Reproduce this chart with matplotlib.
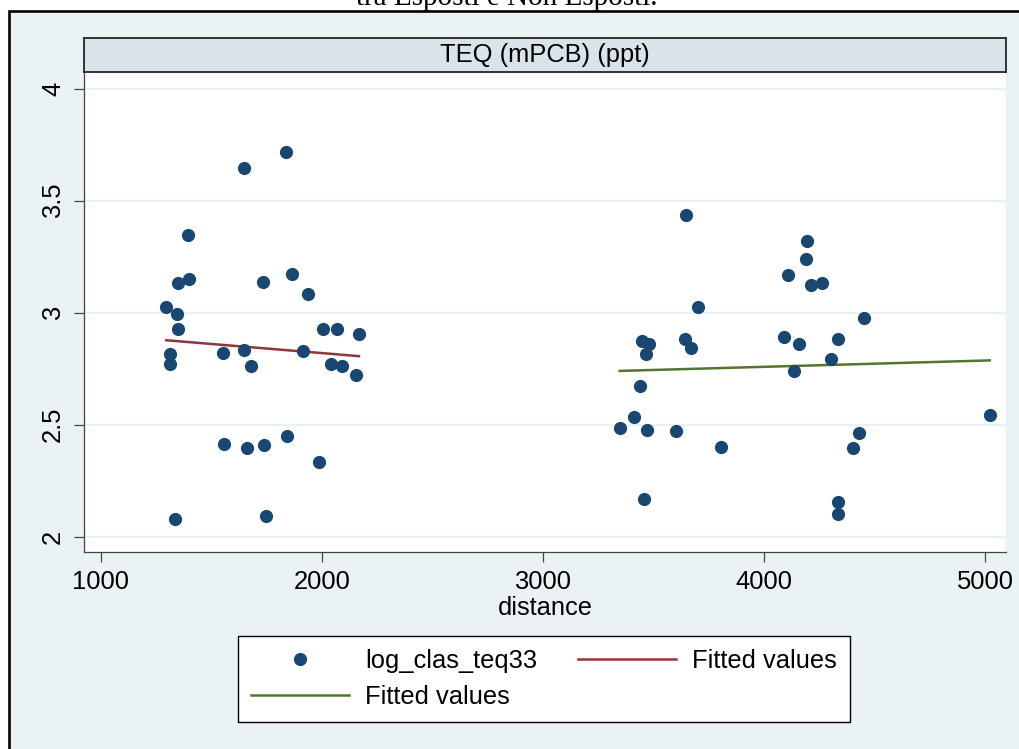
import matplotlib
matplotlib.use("Agg")
import matplotlib.pyplot as plt
from matplotlib.patches import Rectangle

plt.rcParams['font.family'] = ['Liberation Sans', 'DejaVu Sans']

# near group (distance < 2500)
near_dist = [1648, 1839, 1396, 1348, 1401, 1733, 1865, 1938, 1297, 1345,
             1351, 2005, 2069, 2168, 1315, 1312, 1553, 1648, 1681, 1915,
             2042, 2090, 2153, 1559, 1663, 1737, 1844, 1986, 1335, 1748]
near_teq = [3.646, 3.716, 3.346, 3.131, 3.152, 3.137, 3.171, 3.085, 3.027, 2.994,
            2.929, 2.927, 2.927, 2.905, 2.817, 2.772, 2.819, 2.833, 2.763, 2.830,
            2.772, 2.763, 2.722, 2.414, 2.397, 2.409, 2.450, 2.332, 2.080, 2.094]

# far group
far_dist = [3649, 4193, 4191, 4107, 4211, 4261, 3700, 4451, 3448, 3481,
            3468, 3643, 3671, 4092, 4157, 4336, 4303, 4134, 3439, 3413,
            3347, 3469, 3602, 3807, 4431, 4401, 5021, 3459, 4333, 4333]
far_teq = [3.436, 3.320, 3.241, 3.168, 3.124, 3.131, 3.027, 2.975, 2.875, 2.859,
           2.816, 2.884, 2.841, 2.892, 2.860, 2.883, 2.792, 2.738, 2.674, 2.536,
           2.487, 2.475, 2.473, 2.400, 2.462, 2.395, 2.545, 2.168, 2.154, 2.101]

# fitted lines (end points)
fit_near_x = [1297, 2168]
fit_near_y = [2.877, 2.806]
fit_far_x = [3347, 5021]
fit_far_y = [2.740, 2.787]

x_ticks = [1000, 2000, 3000, 4000, 5000]
y_ticks = [2, 2.5, 3, 3.5, 4]
y_ticklabels = ['2', '2.5', '3', '3.5', '4']

navy = '#1a476f'
maroon = '#90353b'
green = '#55752f'
bg = '#eaf2f3'
fs = 18.4

W, H = 1020, 749
fig = plt.figure(figsize=(W / 100, H / 100), dpi=100)
fig.patch.set_facecolor('white')

# graph region with black frame (behind the axes)
fig.patches.append(Rectangle((9 / W, -0.05), 1.2, 1 - 11 / H + 0.05,
                             transform=fig.transFigure, facecolor=bg,
                             edgecolor='black', linewidth=1.9, zorder=-5))

fig.text(0.497, 1 - 5 / H, 'tra Esposti e Non Esposti.', family='Liberation Serif',
         fontsize=21, ha='center', va='baseline')

ax = fig.add_axes([84 / W, 1 - 551.7 / H, 922 / W, (551.7 - 72) / H])
ax.set_facecolor('white')

ax.plot(near_dist, near_teq, 'o', color=navy, ms=9.5, mew=0, zorder=3)
l_red, = ax.plot(fit_near_x, fit_near_y, color=maroon, lw=1.8, zorder=2)
l_green, = ax.plot(fit_far_x, fit_far_y, color=green, lw=1.8, zorder=2)
pts, = ax.plot(far_dist, far_teq, 'o', color=navy, ms=9.5, mew=0, zorder=3)

ax.set_xlim(924.5, 5094.5)
ax.set_ylim(1.933, 4.0745)
ax.set_xticks(x_ticks)
ax.set_yticks(y_ticks)
ax.set_yticklabels(y_ticklabels)
ax.yaxis.grid(True, color=bg, lw=1.6)
ax.set_axisbelow(True)

for s in ['top', 'right']:
    ax.spines[s].set_visible(False)
for s in ['left', 'bottom']:
    ax.spines[s].set_color('#444444')
    ax.spines[s].set_linewidth(0.9)

ax.tick_params(axis='both', length=7.5, width=0.9, color='#444444',
               labelsize=fs, labelcolor='black')
ax.tick_params(axis='x', pad=6)
ax.tick_params(axis='y', labelrotation=90, pad=6)
for lab in ax.get_yticklabels():
    lab.set_va('center')
ax.set_xlabel('distance', fontsize=fs, labelpad=1)

# by-group header strip
hx = fig.add_axes([84 / W, 1 - 72 / H, 922 / W, (72 - 37.7) / H])
hx.set_facecolor('#d9e4ea')
hx.set_xticks([])
hx.set_yticks([])
for s in hx.spines.values():
    s.set_color('#333333')
    s.set_linewidth(1.4)
hx.text(0.5, 0.5, 'TEQ (mPCB) (ppt)', fontsize=fs, ha='center', va='center',
        transform=hx.transAxes)

leg = fig.legend([pts, l_green, l_red],
                 ['log_clas_teq33', 'Fitted values', 'Fitted values'],
                 ncol=2, loc='upper left', bbox_to_anchor=(238 / W, 1 - 636 / H),
                 fontsize=fs, numpoints=1, handlelength=3.85, handletextpad=0.62,
                 columnspacing=1.6, borderpad=0.5, labelspacing=0.47,
                 fancybox=False, edgecolor='black', facecolor='white', framealpha=1,
                 borderaxespad=0)
leg.get_frame().set_linewidth(1.0)

fig.savefig('out.png', dpi=100, facecolor=fig.get_facecolor())
